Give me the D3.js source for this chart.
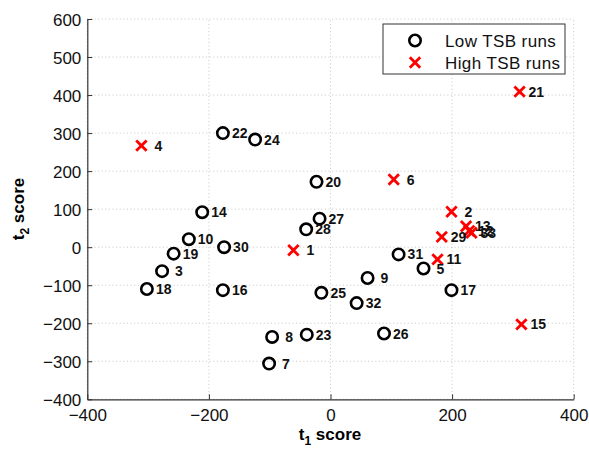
<!DOCTYPE html>
<html><head><meta charset="utf-8">
<script src="https://cdn.jsdelivr.net/npm/d3@7"></script>
<style>
body{margin:0;background:#fff;}
text{font-family:"Liberation Sans",Arial,Helvetica,sans-serif;}
</style></head>
<body><svg id="c" width="589" height="449"></svg>
<script>
// Low TSB runs (circles)
const lowRuns = [22,24,14,20,27,28,10,30,19,3,18,16,8,7,23,25,32,9,31,5,17,26];
const lowT1  = [-177,-124,-211,-23,-18,-40,-233,-175,-258,-277,-302,-177,-96,-101,-39,-15,43,61,112,153,199,88];
const lowT2  = [300,283,92,172,75,47,21,0,-17,-63,-110,-113,-236,-306,-230,-120,-147,-81,-19,-56,-113,-227];
// High TSB runs (crosses)
const highRuns = [4,21,6,2,13,12,33,29,11,1,15];
const highT1 = [-311,311,104,199,223,228,232,183,176,-61,314];
const highT2 = [267,409,178,93,55,43,38,27,-32,-8,-203];
const xTicks = [-400,-200,0,200,400];
const yTicks = [-400,-300,-200,-100,0,100,200,300,400,500,600];
const legendLabels = ["Low TSB runs","High TSB runs"];

const svg = d3.select("#c");
const x = d3.scaleLinear().domain([-400,400]).range([87.3,573.7]);
const y = d3.scaleLinear().domain([-400,600]).range([399.3,19]);

// grid
const g = svg.append("g");
g.selectAll(".gx").data(xTicks).enter().append("line")
 .attr("x1",d=>x(d)).attr("x2",d=>x(d)).attr("y1",y(-400)).attr("y2",y(600))
 .attr("stroke","#b8b8b8").attr("stroke-width",0.8).attr("stroke-dasharray","1,2.6");
g.selectAll(".gy").data(yTicks).enter().append("line")
 .attr("y1",d=>y(d)).attr("y2",d=>y(d)).attr("x1",x(-400)).attr("x2",x(400))
 .attr("stroke","#b8b8b8").attr("stroke-width",0.8).attr("stroke-dasharray","1,2.6");

// axes
const xa = svg.append("g").attr("transform",`translate(0,${y(-400)})`)
 .call(d3.axisBottom(x).tickValues(xTicks).tickSizeInner(-5).tickSizeOuter(0).tickPadding(10).tickFormat(d=>d<0?"\u2212"+Math.abs(d):d));
const ya = svg.append("g").attr("transform",`translate(${x(-400)},0)`)
 .call(d3.axisLeft(y).tickValues(yTicks).tickSizeInner(-5).tickSizeOuter(0).tickPadding(6).tickFormat(d=>d<0?"\u2212"+Math.abs(d):d));
[xa,ya].forEach(a=>{
  a.select(".domain").attr("stroke","#333").attr("stroke-width",1.2);
  a.selectAll(".tick line").attr("stroke","#333");
  a.selectAll(".tick text").attr("font-size",17).attr("fill","#111").attr("font-family","Liberation Sans, Arial, sans-serif");
});
ya.selectAll(".tick text").attr("dy","0.36em");

// axis titles
const xt = svg.append("text").attr("x",330).attr("y",440).attr("text-anchor","middle")
 .attr("font-size",17).attr("font-weight","bold");
xt.append("tspan").text("t");
xt.append("tspan").attr("font-size",12).attr("dy",5).text("1");
xt.append("tspan").attr("dy",-5).text(" score");
const yt = svg.append("text").attr("transform","translate(24,209) rotate(-90)").attr("text-anchor","middle")
 .attr("font-size",17).attr("font-weight","bold");
yt.append("tspan").text("t");
yt.append("tspan").attr("font-size",12).attr("dy",5).text("2");
yt.append("tspan").attr("dy",-5).text(" score");

// points
const low = lowRuns.map((r,i)=>({r,a:lowT1[i],b:lowT2[i]}));
const high = highRuns.map((r,i)=>({r,a:highT1[i],b:highT2[i]}));
svg.selectAll(".lo").data(low).enter().append("circle")
 .attr("cx",d=>x(d.a)).attr("cy",d=>y(d.b)).attr("r",5.7)
 .attr("fill","none").attr("stroke","#000").attr("stroke-width",2.6);
const cs = 5.2;
svg.selectAll(".hi").data(high).enter().append("path")
 .attr("d",d=>{const cx=x(d.a),cy=y(d.b);return `M${cx-cs},${cy-cs}L${cx+cs},${cy+cs}M${cx-cs},${cy+cs}L${cx+cs},${cy-cs}`;})
 .attr("stroke","#ff0000").attr("stroke-width",2.8).attr("fill","none");

// labels
const all = low.concat(high);
svg.selectAll(".lb").data(all).enter().append("text")
 .attr("x",d=>x(d.a)+(String(d.r).length===1?13:9)).attr("y",d=>y(d.b))
 .attr("dy","0.36em").attr("font-size",14).attr("font-weight","bold").attr("fill","#111")
 .text(d=>d.r);

// legend
const lg = svg.append("g");
lg.append("rect").attr("x",383).attr("y",24).attr("width",182).attr("height",50)
 .attr("fill","#fff").attr("stroke","#333").attr("stroke-width",1);
lg.append("circle").attr("cx",415).attr("cy",40.5).attr("r",5.7).attr("fill","none").attr("stroke","#000").attr("stroke-width",2.6);
lg.append("path").attr("d",`M${415-cs},${62.5-cs}L${415+cs},${62.5+cs}M${415-cs},${62.5+cs}L${415+cs},${62.5-cs}`)
 .attr("stroke","#ff0000").attr("stroke-width",2.8);
lg.selectAll(".lt").data(legendLabels).enter().append("text")
 .attr("x",445).attr("y",(d,i)=>40.5+i*22).attr("dy","0.36em").attr("font-size",17).attr("letter-spacing",0.4).attr("fill","#111").text(d=>d);
</script></body></html>
